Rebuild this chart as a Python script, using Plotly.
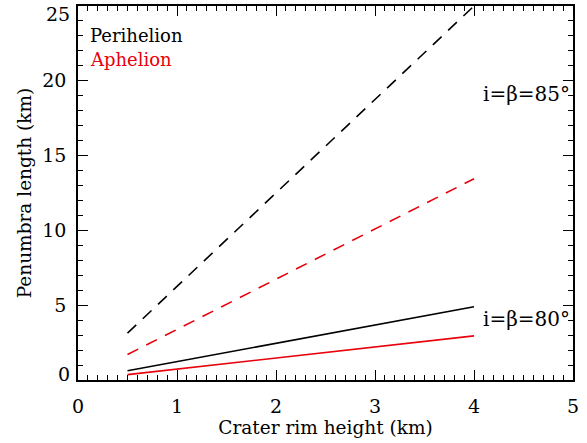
import plotly.graph_objects as go

# Crater rim height (km) at the ends of each computed segment
rim_height = [0.5, 4.0]

# Penumbra length (km)
peri_85 = [3.13, 25.0]
aph_85 = [1.70, 13.45]
peri_80 = [0.62, 4.90]
aph_80 = [0.36, 2.95]

# Axis ticks
x_ticks = [0, 1, 2, 3, 4, 5]
y_ticks = [0, 5, 10, 15, 20, 25]
y_labels = ["0", "5", "10", "15", "20", "25"]

FONT = "DejaVu Serif"
BLACK = "#000000"
RED = "#e8000b"
TICK_SIZE = 19

fig = go.Figure()
series = [
    (peri_85, BLACK, "12px,9px"),
    (aph_85, RED, "12px,9px"),
    (peri_80, BLACK, "solid"),
    (aph_80, RED, "solid"),
]
for ys, col, dash in series:
    fig.add_trace(go.Scatter(x=rim_height, y=ys, mode="lines",
                             line=dict(color=col, width=1.6, dash=dash),
                             showlegend=False, hoverinfo="skip"))

axis_common = dict(
    showgrid=False, zeroline=False, showline=True, linecolor=BLACK, linewidth=1.6,
    mirror="allticks", ticks="inside", tickcolor=BLACK, tickwidth=1.4, ticklen=10,
    tickfont=dict(family=FONT, size=TICK_SIZE, color=BLACK), automargin=False,
)

fig.update_xaxes(range=[0, 5], tickvals=x_ticks,
                 minor=dict(ticks="inside", dtick=0.1, ticklen=5, tickcolor=BLACK, tickwidth=1.2),
                 title=dict(text="Crater rim height (km)", font=dict(family=FONT, size=18.5, color=BLACK), standoff=5),
                 ticklabelstandoff=8, **axis_common)

# the end labels of the y axis sit just inside the frame, so they are placed separately
inner_labels = [lab if 0 < v < 25 else "" for v, lab in zip(y_ticks, y_labels)]
fig.update_yaxes(range=[0, 25], tickvals=y_ticks, ticktext=inner_labels,
                 minor=dict(ticks="inside", dtick=1, ticklen=5, tickcolor=BLACK, tickwidth=1.2),
                 title=dict(text="Penumbra length (km)", font=dict(family=FONT, size=18.5, color=BLACK), standoff=6),
                 ticklabelstandoff=6, **axis_common)
for v, lab, ypix in [(y_ticks[0], y_labels[0], 0.015), (y_ticks[-1], y_labels[-1], 0.978)]:
    fig.add_annotation(xref="paper", yref="paper", x=0, y=ypix, xanchor="right", yanchor="middle",
                       xshift=-6, text=lab, showarrow=False,
                       font=dict(family=FONT, size=TICK_SIZE, color=BLACK))

fig.add_annotation(xref="paper", yref="paper", x=0.02, y=0.922, xanchor="left", yanchor="middle",
                   text="Perihelion", showarrow=False, font=dict(family=FONT, size=18, color=BLACK))
fig.add_annotation(xref="paper", yref="paper", x=0.02, y=0.857, xanchor="left", yanchor="middle",
                   text="Aphelion", showarrow=False, font=dict(family=FONT, size=18, color=RED))
fig.add_annotation(xref="paper", yref="paper", x=0.997, y=0.765, xanchor="right", yanchor="middle",
                   text="i=β=85°", showarrow=False, font=dict(family=FONT, size=20, color=BLACK))
fig.add_annotation(xref="paper", yref="paper", x=0.997, y=0.163, xanchor="right", yanchor="middle",
                   text="i=β=80°", showarrow=False, font=dict(family=FONT, size=20, color=BLACK))

fig.update_layout(width=587, height=443, margin=dict(l=78, r=14, t=6, b=63),
                  plot_bgcolor="white", paper_bgcolor="white")

fig.write_html("out.html")
